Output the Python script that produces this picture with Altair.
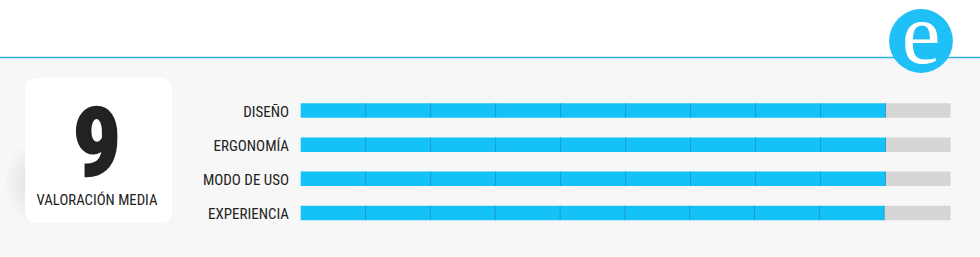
import altair as alt
import pandas as pd

# ---- data ----
categories = ["DISEÑO", "ERGONOMÍA", "MODO DE USO", "EXPERIENCIA"]
values = [9.0, 9.0, 9.0, 8.98]
max_score = 10
segments = 9
average_score = "9"
average_label = "VALORACIÓN MEDIA"
logo_letter = "e"

df = pd.DataFrame({"cat": categories, "value": values, "max": [max_score] * len(categories)})
div_rows = [
    {"cat": c, "pos": v * i / segments}
    for c, v in zip(categories, values)
    for i in range(1, segments + 1)
]
df_div = pd.DataFrame(div_rows)

BLUE = "#14c2f8"
FONT = "Roboto Condensed, Open Sans Condensed, DejaVu Sans Condensed, sans-serif"

xscale = alt.Scale(domain=[0, max_score], range=[300.7, 950.5], nice=False, zero=False)
yscale = alt.Scale(type="point", domain=categories, range=[110.5, 213], padding=0)
Y = alt.Y("cat:N", scale=yscale, axis=None)

one = pd.DataFrame({"a": [0]})

top_white = alt.Chart(one).mark_rect(color="white").encode(
    x=alt.value(0), x2=alt.value(980), y=alt.value(0), y2=alt.value(57)
)
line = alt.Chart(one).mark_rule(color="#2fb4ea", strokeWidth=1.3).encode(
    x=alt.value(0), x2=alt.value(980), y=alt.value(57.5)
)
shadow = alt.Chart(one).mark_rect(
    color=alt.RadialGradient(
        gradient="radial", x1=0.9, y1=0.5, x2=0.9, y2=0.5, r1=0, r2=0.6,
        stops=[alt.GradientStop(color="#d6d6d6", offset=0),
               alt.GradientStop(color="#f7f7f7", offset=1)],
    )
).encode(x=alt.value(6), x2=alt.value(30), y=alt.value(145), y2=alt.value(220))
box = alt.Chart(one).mark_rect(color="white", cornerRadius=11).encode(
    x=alt.value(25), x2=alt.value(172), y=alt.value(78), y2=alt.value(223)
)
big = alt.Chart(one).mark_text(
    text=average_score, font=FONT, fontSize=95, fontWeight="bold", color="#222222",
    stroke="#222222", strokeWidth=2.5, align="center", baseline="alphabetic"
).encode(x=alt.value(97), y=alt.value(175))
sub = alt.Chart(one).mark_text(
    text=average_label, font=FONT, fontSize=14.8, color="#222222",
    align="center", baseline="alphabetic"
).encode(x=alt.value(97), y=alt.value(205))

circle = alt.Chart(one).mark_circle(color="#1ec0f6", opacity=1, size=4070).encode(
    x=alt.value(921), y=alt.value(41)
)
letter = alt.Chart(one).mark_text(
    text=logo_letter, font="Liberation Serif", fontSize=87, color="white",
    align="center", baseline="alphabetic"
).encode(x=alt.value(921), y=alt.value(63))

base = alt.Chart(df)
gray = base.mark_rule(color="#d6d6d6", strokeWidth=14.5, strokeCap="butt").encode(
    x=alt.X("value:Q", scale=xscale, axis=None), x2="max:Q", y=Y
)
blue = base.mark_rule(color=BLUE, strokeWidth=14.5, strokeCap="butt").transform_calculate(
    zero="0"
).encode(x=alt.X("zero:Q", scale=xscale, axis=None), x2="value:Q", y=Y)
ticks = alt.Chart(df_div).mark_tick(
    orient="vertical", size=14.5, thickness=1, color="#1a8dbd"
).encode(x=alt.X("pos:Q", scale=xscale, axis=None), y=Y)
labels = base.mark_text(
    font=FONT, fontSize=15, color="#222222", align="right", baseline="middle", dy=1
).encode(x=alt.value(289), y=Y, text="cat:N")

chart = alt.layer(
    top_white, line, shadow, box, big, sub, gray, blue, ticks, labels, circle, letter
).properties(
    width=980, height=257, background="#f7f7f7",
    autosize=alt.AutoSizeParams(type="none"), padding=0
).configure_view(stroke=None)

chart.save("out.html", embed_options={"renderer": "svg", "actions": False})
